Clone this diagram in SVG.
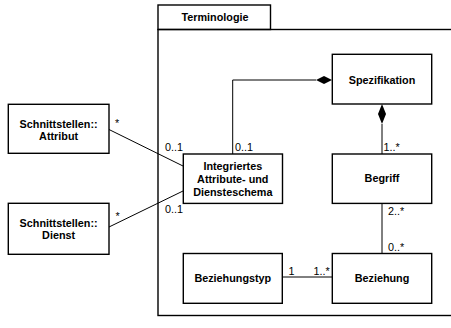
<svg xmlns="http://www.w3.org/2000/svg" width="451" height="328" viewBox="0 0 451 328">
<style>
.box{fill:#fff;stroke:#000;stroke-width:1.4}
.frame{fill:none;stroke:#000;stroke-width:1.4}
.t{font-family:"Liberation Sans",Arial,sans-serif;font-size:10.8px;font-weight:bold;text-anchor:middle;fill:#000}
.m{font-family:"Liberation Sans",Arial,sans-serif;font-size:10.8px;fill:#000}
.c{fill:none;stroke:#000;stroke-width:1}
.d{fill:#000;stroke:none}
</style>
<rect width="451" height="328" fill="#fff"/>
<g id="frame">
<rect class="frame" x="158" y="29.5" width="320" height="286"/>
<rect class="frame" x="158" y="5" width="112.5" height="24.5"/>
<text class="t" x="215" y="21">Terminologie</text>
</g>
<g id="connectors">
<polyline class="c" points="316,80 232.7,80 232.7,154"/>
<path class="d" d="M332,80 L324,76 L316,80 L324,84 Z"/>
<line class="c" x1="382" y1="124" x2="382" y2="154"/>
<path class="d" d="M382,104 L378,114 L382,124 L386,114 Z"/>
<line class="c" x1="109" y1="129.5" x2="183" y2="166"/>
<line class="c" x1="109" y1="227" x2="183" y2="191"/>
<line class="c" x1="382" y1="203.5" x2="382" y2="253.5"/>
<line class="c" x1="282.5" y1="277" x2="332" y2="277"/>
<text class="m" x="165" y="150.5">0..1</text>
<text class="m" x="235" y="150.5">0..1</text>
<text class="m" x="383.5" y="150.5">1..*</text>
<text class="m" x="115" y="127">*</text>
<text class="m" x="115.5" y="220">*</text>
<text class="m" x="165" y="213">0..1</text>
<text class="m" x="388" y="215">2..*</text>
<text class="m" x="388" y="250.5">0..*</text>
<text class="m" x="288.5" y="275">1</text>
<text class="m" x="313.5" y="275">1..*</text>
</g>
<g id="spezifikation">
<rect class="box" x="332.3" y="54.3" width="99.4" height="49.7"/>
<text class="t" x="382" y="84">Spezifikation</text>
</g>
<g id="begriff">
<rect class="box" x="332.3" y="154" width="99.4" height="49.4"/>
<text class="t" x="382" y="182">Begriff</text>
</g>
<g id="beziehung">
<rect class="box" x="332.3" y="253.5" width="99.4" height="49.8"/>
<text class="t" x="382" y="282">Beziehung</text>
</g>
<g id="beziehungstyp">
<rect class="box" x="183.3" y="253.5" width="99" height="49.8"/>
<text class="t" x="232.8" y="282">Beziehungstyp</text>
</g>
<g id="integriertes">
<rect class="box" x="183.3" y="154" width="99.2" height="49.4"/>
<text class="t" x="232.8" y="170">Integriertes</text>
<text class="t" x="232.8" y="183">Attribute- und</text>
<text class="t" x="232.8" y="196">Diensteschema</text>
</g>
<g id="attribut">
<rect class="box" x="8.3" y="104.3" width="100.7" height="49"/>
<text class="t" x="58.6" y="127.5">Schnittstellen::</text>
<text class="t" x="58.6" y="139.5">Attribut</text>
</g>
<g id="dienst">
<rect class="box" x="8.3" y="203.3" width="100.7" height="51"/>
<text class="t" x="58.6" y="226.7">Schnittstellen::</text>
<text class="t" x="58.6" y="239.3">Dienst</text>
</g>
</svg>
